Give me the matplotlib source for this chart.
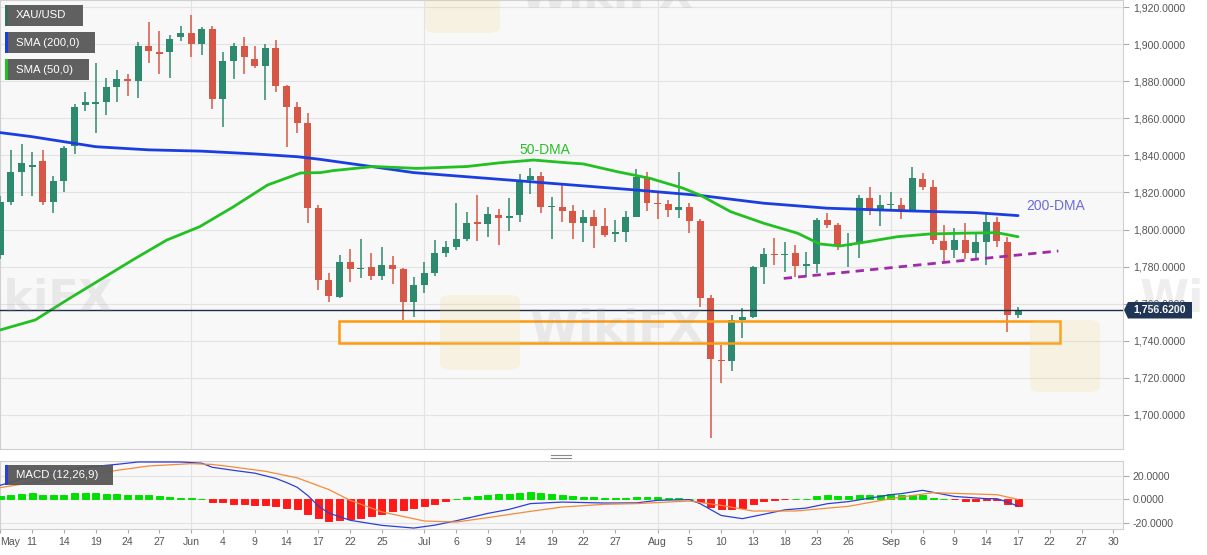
import numpy as np
import matplotlib
matplotlib.use("Agg")
import matplotlib.pyplot as plt
from matplotlib.patches import Rectangle, Polygon, FancyBboxPatch
from matplotlib.lines import Line2D

plt.rcParams['font.family'] = ['Liberation Sans', 'DejaVu Sans']

# XAU/USD daily candles, 6 May .. 17 Sep 2021 (one entry per trading day)
tick_pos = [0, 3, 6, 9, 12, 15, 18, 21, 24, 27, 30, 33, 36, 40, 43, 46, 49, 52,
            55, 58, 62, 65, 68, 71, 74, 77, 80, 84, 87, 90, 93, 96, 99, 102, 105]
tick_labels = ['May', '11', '14', '19', '24', '27', 'Jun', '4', '9', '14', '17',
               '22', '25', 'Jul', '6', '9', '14', '19', '22', '27', 'Aug', '5',
               '10', '13', '18', '23', '26', 'Sep', '6', '9', '14', '17', '22',
               '27', '30']
month_pos = [18, 40, 62, 84]

opens = [1786, 1815, 1831, 1834, 1837, 1815, 1826, 1845, 1867, 1868,
         1869, 1877, 1881, 1880, 1899, 1896, 1896, 1904, 1906, 1900,
         1908, 1870.5, 1891, 1899, 1892, 1888.5, 1898, 1877.5, 1866, 1857.4,
         1811.5, 1773, 1763.6, 1782.6, 1778.5, 1779.5, 1775, 1781, 1778.5, 1761,
         1770, 1776.4, 1787.5, 1790.8, 1794.7, 1803.8, 1803, 1808, 1806, 1807.8,
         1826.7, 1829, 1812, 1812.3, 1810.2, 1803.7, 1806.6, 1801.9, 1797.8, 1798.8,
         1806.9, 1828.2, 1814, 1813.8, 1810.5, 1812, 1804.5, 1763, 1729.5, 1729,
         1751.2, 1752.6, 1780, 1786.8, 1786, 1787.2, 1780.3, 1781.2, 1805.2, 1802.5,
         1791.1, 1792.2, 1816.9, 1810.2, 1813, 1813.3, 1810.2, 1827.3, 1822.8, 1794,
         1789, 1794.4, 1787.5, 1793.4, 1804.2, 1793.4, 1753.9]
highs = [1818, 1843, 1846, 1842, 1843, 1829, 1845, 1868, 1874, 1890,
         1882, 1886, 1884, 1901, 1912, 1907, 1905, 1910, 1916, 1909.5,
         1910, 1896, 1900.6, 1904, 1899, 1900, 1902.4, 1878, 1869, 1863,
         1813, 1776.4, 1786.2, 1789.7, 1794.7, 1787.5, 1790.3, 1785.5, 1779, 1774.5,
         1782.6, 1794.4, 1794, 1814.5, 1809.6, 1818.7, 1812.3, 1811, 1817, 1830,
         1833.4, 1831.2, 1817.3, 1825, 1813, 1810.6, 1810.6, 1811.5, 1805, 1810.2,
         1832.5, 1831.2, 1819.6, 1816, 1831.2, 1814.2, 1805.5, 1764.6, 1737.6, 1753.9,
         1757.5, 1780.5, 1789.8, 1795.3, 1793.4, 1791.7, 1788, 1806.1, 1809.1, 1803.5,
         1798, 1818.6, 1823.1, 1818.6, 1820, 1816.9, 1833.6, 1830.4, 1826.7, 1802.4,
         1800.7, 1803.4, 1798, 1808.8, 1806.9, 1795.8, 1758]
lows = [1784, 1813, 1818, 1818, 1813, 1809, 1820, 1841, 1864, 1852,
        1862, 1869, 1872, 1871, 1890, 1884, 1882, 1902, 1893, 1894.2,
        1865, 1855.5, 1881, 1884, 1887, 1870, 1874.5, 1844.7, 1852, 1803.7,
        1767.4, 1761, 1762.9, 1771.9, 1773.7, 1772.5, 1772.8, 1770.7, 1751.2, 1753,
        1765.5, 1774.7, 1785, 1789, 1794, 1794, 1796.2, 1791.7, 1799, 1804,
        1819, 1808.8, 1794.7, 1804.2, 1794.7, 1793, 1790, 1796, 1793.4, 1793,
        1806.6, 1810.2, 1805.6, 1807, 1806, 1798, 1758.3, 1687.6, 1717.3, 1723.8,
        1741.3, 1752, 1770.6, 1780.9, 1777.2, 1774.5, 1774.5, 1776.4, 1800.7, 1789,
        1780, 1784.5, 1807.9, 1801.9, 1810.5, 1805.5, 1810, 1821.4, 1792.2, 1782.6,
        1784.5, 1783.9, 1783.9, 1780.9, 1790.4, 1744.8, 1752]
closes = [1815, 1831, 1836, 1835, 1815, 1826, 1844, 1866, 1869, 1869,
          1877, 1881, 1880, 1899, 1896.6, 1895, 1903, 1906, 1900, 1908,
          1870.5, 1891, 1899, 1893, 1888.5, 1898, 1877.5, 1866, 1857.4, 1811.5,
          1772.8, 1764.1, 1782.6, 1778.5, 1779, 1775, 1780.9, 1778.5, 1761, 1770,
          1776.4, 1787.2, 1790.8, 1794.7, 1803.7, 1803, 1808.4, 1806, 1807.3, 1826.7,
          1828.9, 1812.3, 1812.5, 1810.2, 1803.7, 1806.6, 1801.9, 1797, 1798.8, 1806.6,
          1828.2, 1814.2, 1813.5, 1810.5, 1812, 1804.5, 1762.9, 1730, 1729, 1751.2,
          1752.6, 1780, 1786.8, 1786.1, 1787, 1780.3, 1781.2, 1805.2, 1802.5, 1791.1,
          1791.7, 1816.9, 1810.2, 1813.3, 1813.3, 1810.2, 1827.7, 1823.1, 1794.4, 1789,
          1794.4, 1787.5, 1793.4, 1804.2, 1794, 1753.9, 1756.62]

# moving averages (bar index, price)
sma200_idx = [0, 3, 6, 8, 9, 14, 19, 24, 28, 30, 35, 39, 48, 60, 66, 72, 78, 86, 92, 96]
sma200_val = [1852.3, 1850.1, 1847.4, 1845.6, 1844.7, 1843.0, 1842.3, 1840.8, 1839.3,
              1838.0, 1834.0, 1830.7, 1826.7, 1821.3, 1818.4, 1814.2, 1811.5, 1810.0,
              1809.1, 1807.5]
sma50_idx = [0, 3.3, 6.3, 9.4, 12.5, 15.7, 18.8, 22.0, 25.2, 28.3, 30.2, 31.4, 35.2,
             39.3, 44.0, 47.1, 50.3, 53.5, 55.0, 58.2, 61.3, 64.4, 66.0, 68.9, 72.0,
             75.2, 77.3, 79.2, 81.8, 84.6, 87.7, 90.8, 94.0, 96.0]
sma50_val = [1745.8, 1751.2, 1762.0, 1772.8, 1783.6, 1794.3, 1801.5, 1812.3, 1824.0,
             1830.5, 1830.7, 1831.8, 1834.0, 1833.0, 1834.0, 1836.0, 1837.5, 1836.0,
             1835.4, 1831.2, 1827.6, 1822.3, 1818.6, 1809.6, 1803.4, 1798.0, 1792.2,
             1791.1, 1793.4, 1796.1, 1797.6, 1798.0, 1798.3, 1796.1]

# MACD (12,26,9)
macd_idx = [0, 2, 4, 6, 8, 11, 13, 17, 19, 20, 22, 24, 26, 27, 28, 29, 30, 31, 33, 36,
            39, 41, 43, 46, 48, 50, 53, 57, 60, 62, 65, 66, 68, 70, 72, 74, 76, 78, 80,
            84, 85, 87, 90, 93, 94, 95, 96]
macd_val = [11.7, 17.0, 21.0, 24.0, 27.0, 29.5, 31.5, 31.5, 30.5, 27.0, 24.4, 22.0,
            17.5, 14.0, 10.0, 3.0, -6.0, -12.0, -18.1, -22.4, -24.7, -22.2, -18.5,
            -12.2, -8.8, -3.9, -2.6, -3.4, -3.3, -1.1, -0.5, -3.9, -14.0, -16.7, -13.0,
            -9.2, -7.7, -4.0, -2.2, 3.7, 4.6, 7.4, 2.2, 0.3, 0.3, -2.6, -6.0]
signal_idx = [0, 3, 6, 9, 11, 14, 18, 20, 22, 25, 28, 31, 33, 36, 40, 43, 46, 50, 53,
              57, 60, 65, 68, 71, 75, 80, 84, 85, 88, 91, 94, 96]
signal_val = [9.7, 14.0, 18.0, 21.5, 24.4, 28.1, 30.1, 29.4, 27.2, 23.6, 18.0, 8.0,
              -1.1, -11.0, -18.7, -19.6, -15.8, -10.5, -6.8, -4.5, -3.9, -1.7, -5.4,
              -10.2, -10.2, -6.2, 0.3, 1.7, 5.4, 4.5, 3.7, -0.3]
hist = [2.3, 3.1, 4.5, 5.1, 3.7, 3.1, 3.7, 4.8, 5.1, 4.8,
        4.5, 4.3, 3.7, 3.7, 3.1, 2.6, 2.0, 1.1, 0.6, 0.3,
        -2.8, -2.6, -4.0, -4.3, -4.8, -4.8, -6.0, -7.4, -8.8, -12.5,
        -16.0, -18.7, -18.2, -17.3, -15.9, -14.5, -12.5, -10.0, -9.6, -8.0,
        -6.2, -4.0, -1.4, 0.3, 1.4, 2.8, 3.7, 4.0, 4.3, 5.4,
        6.2, 5.4, 4.5, 3.7, 2.6, 2.0, 1.4, 0.5, 0.5, 0.6,
        1.4, 1.4, 1.4, 0.9, 0.9, 0.3, -2.3, -7.1, -8.8, -8.2,
        -7.4, -4.5, -1.7, -0.9, -0.2, 0.3, 0.4, 2.3, 3.1, 2.8,
        2.6, 3.7, 3.7, 3.7, 4.0, 3.4, 3.7, 3.7, 1.1, 0.3,
        -0.3, -1.4, -1.4, -1.1, -1.1, -4.0, -5.7]

# annotations
last_price = 1756.62
zone_idx = [31.9, 100.0]
zone_val = [1738.6, 1750.5]
trend_idx = [73.9, 99.8]
trend_val = [1773.6, 1788.4]

W, H = 1207, 555
GREEN = '#2e8a6e'
RED = '#d65746'
BG = '#f8f8f8'
GRID = '#e3e3e3'
TXT = '#555555'


def fx(px):
    return px / W


def fy(py):
    return 1 - py / H


def label_box(fig, x0, y0, x1, y1, text, stripe):
    fig.add_artist(Rectangle((fx(x0), fy(y1)), fx(x1 - x0), (y1 - y0) / H,
                             transform=fig.transFigure, facecolor='#585858',
                             edgecolor='none', alpha=0.95, zorder=6))
    fig.add_artist(Rectangle((fx(x0), fy(y1)), fx(2.5), (y1 - y0) / H,
                             transform=fig.transFigure, facecolor=stripe,
                             edgecolor='none', zorder=7))
    fig.text(fx(x0 + 11), fy((y0 + y1) / 2), text, color='white', fontsize=8.2,
             va='center', ha='left', zorder=8)


def main():
    fig = plt.figure(figsize=(W / 100, H / 100), dpi=100)
    fig.patch.set_facecolor('white')

    ax = fig.add_axes([0, fy(449), fx(1123), 449 / H])
    ax2 = fig.add_axes([0, fy(529), fx(1123), (529 - 460.7) / H])

    xlim = (-0.03, 105.9)
    idx = np.arange(len(opens))

    # ---- price panel
    ax.set_facecolor(BG)
    ax.set_xlim(*xlim)
    ax.set_ylim(1681.5, 1923.9)
    yt = np.arange(1700, 1921, 20)
    ax.set_yticks(yt)
    ax.set_yticklabels([f"{v:,.4f}" for v in yt])
    ax.yaxis.tick_right()
    ax.tick_params(axis='y', length=4, color='#aaaaaa', labelcolor=TXT,
                   labelsize=7.6, pad=3)
    ax.set_xticks([])
    for v in yt:
        ax.axhline(v, color=GRID, lw=0.8, zorder=0)
    for p in month_pos:
        ax.axvline(p, color=GRID, lw=0.8, zorder=0)
    for s in ax.spines.values():
        s.set_color('#d0d0d0')
        s.set_linewidth(0.8)

    o = np.array(opens)
    c = np.array(closes)
    cols = np.where(c >= o, GREEN, RED)
    ax.vlines(idx, lows, highs, colors=cols, lw=1.1, zorder=3)
    body = np.maximum(np.abs(c - o), 0.6)
    ax.bar(idx, body, bottom=np.minimum(o, c), width=0.66, color=cols,
           linewidth=0, zorder=4)

    ax.plot(sma200_idx, sma200_val, color='#1a3ee0', lw=2.0, zorder=5,
            solid_capstyle='round')
    ax.plot(sma50_idx, sma50_val, color='#22c022', lw=2.0, zorder=5,
            solid_capstyle='round')
    ax.plot(trend_idx, trend_val, color='#a02aa8', lw=2.0, ls=(0, (3, 2.2)),
            zorder=5)
    ax.add_patch(Rectangle((zone_idx[0], zone_val[0]), zone_idx[1] - zone_idx[0],
                           zone_val[1] - zone_val[0], fill=False,
                           edgecolor='#ff9a0a', lw=1.8, zorder=6))
    ax.axhline(last_price, color='#1d2d4a', lw=1.0, zorder=6)

    ax.text(51.4, 1843, '50-DMA', color='#28c028', fontsize=10, ha='center',
            va='center', zorder=7)
    ax.text(99.5, 1812.8, '200-DMA', color='#6b6be0', fontsize=10, ha='center',
            va='center', zorder=7)

    # ---- MACD panel
    ax2.set_facecolor(BG)
    ax2.set_xlim(*xlim)
    ax2.set_ylim(-25.5, 32.6)
    mt = [20, 0, -20]
    ax2.set_yticks(mt)
    ax2.set_yticklabels([f"{v:.4f}" for v in mt])
    ax2.yaxis.tick_right()
    ax2.tick_params(axis='y', length=4, color='#aaaaaa', labelcolor=TXT,
                    labelsize=7.6, pad=3)
    for v in mt:
        ax2.axhline(v, color=GRID, lw=0.8, zorder=0)
    for p in month_pos:
        ax2.axvline(p, color=GRID, lw=0.8, zorder=0)
    for s in ax2.spines.values():
        s.set_color('#d0d0d0')
        s.set_linewidth(0.8)

    hv = np.array(hist)
    hcols = np.where(hv >= 0, '#00e000', '#ff1a1a')
    ax2.bar(idx, hv, width=0.66, color=hcols, edgecolor=hcols, linewidth=0.7,
            zorder=3)
    ax2.plot(macd_idx, macd_val, color='#2b3fd6', lw=0.9, zorder=4)
    ax2.plot(signal_idx, signal_val, color='#f58a3a', lw=0.9, zorder=4)

    ax2.set_xticks(tick_pos)
    ax2.set_xticklabels(tick_labels)
    ax2.tick_params(axis='x', length=3, color='#aaaaaa', labelcolor=TXT,
                    labelsize=7.6, pad=3)
    ax2.get_xticklabels()[0].set_ha('left')

    # ---- price tag on the axis
    ty = fy(310)
    fig.add_artist(Polygon([(fx(1124), ty), (fx(1128), fy(302)), (fx(1192), fy(302)),
                            (fx(1192), fy(318.5)), (fx(1128), fy(318.5))],
                           closed=True, transform=fig.transFigure,
                           facecolor='#1e3556', edgecolor='none', zorder=6))
    fig.text(fx(1160), ty, f"{last_price:,.4f}", color='white', fontsize=7.6,
             fontweight='bold', ha='center', va='center', zorder=7)

    # legend tags
    label_box(fig, 5, 5, 83, 26, 'XAU/USD', '#3a6a60')
    label_box(fig, 5, 32, 95, 53, 'SMA (200,0)', '#1a3ee0')
    label_box(fig, 5, 59, 89, 80, 'SMA (50,0)', '#22c022')
    label_box(fig, 5, 465, 113, 485, 'MACD (12,26,9)', '#2b3fd6')

    # panel separator grip
    for yy in (455.3, 457.8):
        fig.add_artist(Line2D([fx(551), fx(571)], [fy(yy), fy(yy)],
                              transform=fig.transFigure, color='#888888', lw=0.8))

    # watermarks
    for (x0, y0, x1, y1) in [(440, 295, 520, 370), (1030, 320, 1100, 392),
                             (425, -40, 500, 33)]:
        fig.add_artist(FancyBboxPatch((fx(x0), fy(y1)), fx(x1 - x0), (y1 - y0) / H,
                                      boxstyle='round,pad=0.0,rounding_size=0.01',
                                      transform=fig.transFigure, facecolor='#f0d27a',
                                      edgecolor='none', alpha=0.18, zorder=9))
    for (x, y) in [(-60, 300), (530, 330), (1140, 300), (520, -5)]:
        fig.text(fx(x), fy(y), 'WikiFX', fontsize=32, fontweight='bold',
                 family='DejaVu Sans', color='#9a9a9a', alpha=0.16, ha='left',
                 va='center', zorder=9)

    fig.savefig('out.png', dpi=100)


if __name__ == "__main__":
    main()
